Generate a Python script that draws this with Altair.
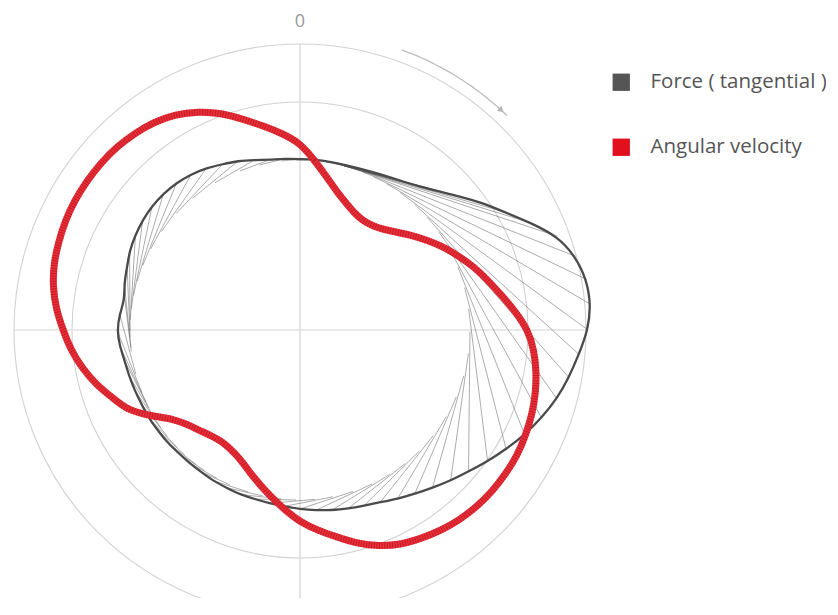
import altair as alt
import pandas as pd

# ---------------- data ----------------
ANGLE_DEG = list(range(0, 360, 5))  # clockwise from top

FORCE_R = [171, 171, 171, 171, 172, 174, 177, 181, 187, 196,
           208, 222, 236, 254, 274, 285, 291, 292, 288, 280,
           273, 266, 257, 248, 238, 229, 220, 213, 206, 200,
           195, 190, 187, 185, 183, 181, 179, 177, 176, 175,
           175, 174, 174, 173, 173, 173, 174, 174, 175, 175,
           176, 177, 178, 181, 183, 181, 178, 182, 184, 188,
           190, 192, 193, 193, 192, 190, 187, 183, 180, 176,
           173, 172]

VELOCITY_R = [187, 170, 155, 143, 135, 129, 126, 127, 131, 138,
              147, 156, 166, 175, 185, 194, 204, 216, 228, 235,
              240, 244, 247, 249, 251, 251, 251, 250, 248, 245,
              241, 237, 230, 221, 210, 201, 192, 180, 169, 159,
              150, 142, 138, 136, 138, 142, 147, 155, 172, 190,
              199, 211, 221, 230, 237, 245, 251, 255, 257, 259,
              260, 260, 260, 259, 257, 254, 249, 241, 231, 218,
              207, 197]

BASE_R = 170                       # base circle of the tangential force
GRID_R = [228, 286]                # radial grid circles
AXIS_R = [286]                     # extent of the cross-hair axes
ANGLE_LABELS = ["0"]
ANGLE_LABEL_POS = [0]
ARROW = {"start": 20, "end": 44, "r": 298}
SERIES = ["Force ( tangential )", "Angular velocity"]
SERIES_COLORS = ["#555555", "#e0101e"]

df = pd.DataFrame({"theta": ANGLE_DEG, "force": FORCE_R, "velocity": VELOCITY_R})

# ---------------- layout ----------------
W, H = 818, 590
CX, CY = 292, 322
xs = alt.Scale(domain=[-CX, W - CX], nice=False, zero=False)
ys = alt.Scale(domain=[CY - H, CY], nice=False, zero=False)
RAD = "PI/180"
FONT = "Open Sans"


def XY(xf, yf):
    return dict(x=alt.X(xf, scale=xs, axis=None), y=alt.Y(yf, scale=ys, axis=None))


# grid circles (circle symbols centred on the pole, size = diameter^2)
grid = alt.Chart(pd.DataFrame({"r": GRID_R})).transform_calculate(
    cx="0", cy="0", s="4*datum.r*datum.r"
).mark_point(shape="circle", filled=False, color="#d2d2d2", strokeWidth=1.1, opacity=1).encode(
    **XY("cx:Q", "cy:Q"), size=alt.Size("s:Q", scale=None, legend=None)
)

# cross-hair axes
axes_df = pd.DataFrame({"r": AXIS_R})
hline = alt.Chart(axes_df).transform_calculate(
    xa="-datum.r", xb="datum.r", ya="0"
).mark_rule(color="#e2e2e2", strokeWidth=1.6, clip=True).encode(
    x=alt.X("xa:Q", scale=xs, axis=None), x2="xb:Q", y=alt.Y("ya:Q", scale=ys, axis=None)
)
vline = alt.Chart(axes_df).transform_calculate(
    ya="datum.r", yb="-datum.r", xa="0"
).mark_rule(color="#d6d6d6", strokeWidth=1.3, clip=True).encode(
    x=alt.X("xa:Q", scale=xs, axis=None), y=alt.Y("ya:Q", scale=ys, axis=None), y2="yb:Q"
)

# angle label
lab = alt.Chart(pd.DataFrame({"label": ANGLE_LABELS, "a": ANGLE_LABEL_POS})).transform_calculate(
    lx=f"308*sin(datum.a*{RAD})", ly=f"308*cos(datum.a*{RAD})"
).mark_text(font=FONT, fontSize=18, color="#9a9a9a", baseline="middle").encode(
    **XY("lx:Q", "ly:Q"), text="label:N"
)

# rotation arrow
arrow_df = pd.DataFrame([ARROW])
arrow_arc = alt.Chart(arrow_df).transform_calculate(
    seq="sequence(datum.start, datum.end + 0.5, 1)"
).transform_flatten(["seq"]).transform_calculate(
    ax=f"datum.r*sin(datum.seq*{RAD})", ay=f"datum.r*cos(datum.seq*{RAD})"
).mark_line(color="#bdbdbd", strokeWidth=1.3, interpolate="monotone").encode(
    **XY("ax:Q", "ay:Q"), order="seq:Q"
)
arrow_head = alt.Chart(arrow_df).transform_calculate(
    ax=f"datum.r*sin((datum.end-1.5)*{RAD})", ay=f"datum.r*cos((datum.end-1.5)*{RAD})", ang="datum.end"
).mark_point(shape="triangle-right", filled=True, size=45, color="#b5b5b5", opacity=1).encode(
    **XY("ax:Q", "ay:Q"), angle=alt.Angle("ang:Q", scale=None)
)

# tangential force: tangent lines from base circle to the force curve
hatch = alt.Chart(df).transform_filter(
    f"datum.force > {BASE_R} + 0.5"
).transform_calculate(
    phi=f"datum.theta - acos({BASE_R}/datum.force)*180/PI",
    hx1=f"datum.force*sin(datum.theta*{RAD})",
    hy1=f"datum.force*cos(datum.theta*{RAD})",
).transform_calculate(
    hx2=f"{BASE_R}*sin(datum.phi*{RAD})",
    hy2=f"{BASE_R}*cos(datum.phi*{RAD})",
).mark_rule(color="#5a5a5a", strokeWidth=0.6, opacity=0.85).encode(
    **XY("hx1:Q", "hy1:Q"), x2="hx2:Q", y2="hy2:Q"
)

force_line = alt.Chart(df).transform_calculate(
    fx=f"datum.force*sin(datum.theta*{RAD})", fy=f"datum.force*cos(datum.theta*{RAD})"
).mark_line(interpolate="basis-closed", color="#4a4a4a", strokeWidth=2.3).encode(
    **XY("fx:Q", "fy:Q"), order="theta:Q"
)

vel_base = alt.Chart(df).transform_calculate(
    vx=f"datum.velocity*sin(datum.theta*{RAD})", vy=f"datum.velocity*cos(datum.theta*{RAD})"
)
vel_line = vel_base.mark_line(interpolate="basis-closed", color="#e8303a", strokeWidth=7).encode(
    **XY("vx:Q", "vy:Q"), order="theta:Q"
)
vel_hatch = vel_base.mark_line(
    interpolate="basis-closed", color="#a0000c", strokeWidth=7, strokeDash=[1, 1.6], opacity=0.45
).encode(**XY("vx:Q", "vy:Q"), order="theta:Q")

# legend (entries from the explicit scale domain)
legend_layer = alt.Chart(pd.DataFrame({"series": SERIES})).transform_filter("false").mark_square(
    filled=True, opacity=1, size=300
).encode(
    color=alt.Color(
        "series:N",
        scale=alt.Scale(domain=SERIES, range=SERIES_COLORS),
        legend=alt.Legend(
            title=None, orient="none", legendX=603, legendY=64, symbolType="square",
            symbolSize=300, symbolStrokeWidth=0, labelFont=FONT, labelFontSize=20.5,
            labelColor="#555555", labelOffset=19, rowPadding=44, padding=0,
            labelLimit=300,
        ),
    )
)

chart = alt.layer(
    grid, hline, vline, lab, arrow_arc, arrow_head, hatch, force_line, vel_line, vel_hatch, legend_layer
).properties(
    width=W, height=H, autosize=alt.AutoSizeParams(type="none"), padding=0
).configure(background="white").configure_view(stroke=None)

chart.save("out.html", embed_options={"renderer": "svg", "actions": False})
